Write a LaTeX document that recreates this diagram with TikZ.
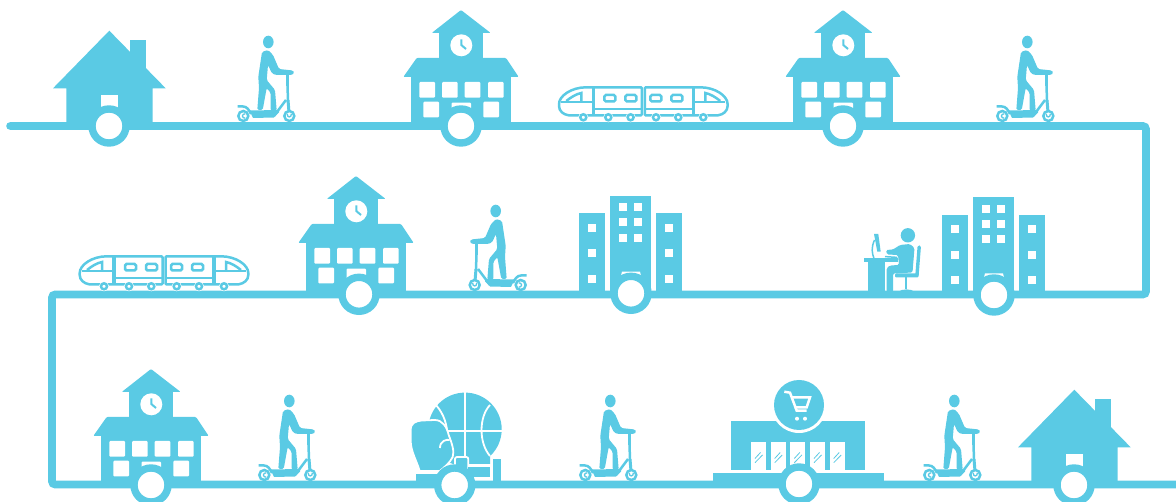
\documentclass[tikz,border=0pt]{standalone}
\usepackage{xcolor}
\definecolor{routeblue}{RGB}{90,202,228}

\begin{document}
\begin{tikzpicture}[
        x=1pt,
        y=-1pt,
        route/.style={
            draw=routeblue,
            line width=7.6pt,
            line cap=round,
            rounded corners=3pt
        },
        stopring/.style={
            circle,
            draw=routeblue,
            fill=white,
            line width=7.4pt,
            minimum size=34pt,
            inner sep=0pt,
            outer sep=0pt
        },
        iconfill/.style={
            fill=routeblue
        },
        iconline/.style={
            draw=routeblue,
            line width=2.5pt
        },
        iconwhite/.style={
            fill=white
        },
        seamline/.style={
            draw=white,
            line width=1.8pt
        },
        housepic/.pic={
            \fill[iconfill] (0.3,-95.3) -- (56.7,-37.7) -- (43.7,-37.7) -- (43.7,-1)
                -- (-42.7,-1) -- (-42.7,-37.7) -- (-56,-37.7) -- cycle;
            \fill[iconfill] (21,-85.7) rectangle (37,-45);
            \fill[iconwhite] (-7.7,-31) rectangle (8.7,-12);
        },
        schoolpic/.pic={
            \fill[iconfill, rounded corners=1pt] (0,-116) -- (29.7,-93) -- (-29.3,-93) -- cycle;
            \fill[iconfill] (-21.7,-94) rectangle (22,-67);
            \fill[iconfill, rounded corners=1pt] (-44.3,-68) -- (45,-68) -- (57.7,-49) -- (-57.7,-49) -- cycle;
            \fill[iconfill] (-50,-50) rectangle (50,0);
            \fill[iconwhite] (0.3,-80.7) circle (11);
            \draw[iconline, line width=2pt] (0.3,-86.5) -- (0.3,-81) -- (5,-77);
            \foreach \winx in {-41.7,-19,3.7,27}
                \fill[iconwhite, rounded corners=1pt] (\winx,-44) rectangle ++(15.7,15.7);
            \foreach \winx in {-37.7,22.3}
                \fill[iconwhite, rounded corners=1pt] (\winx,-24.3) rectangle ++(15.7,15.7);
            \fill[iconwhite, rounded corners=1pt] (-9.5,-23.4) rectangle ++(19.5,12);
        },
        scooterpic/.pic={
            \fill[iconfill] (2.3,-84) ellipse [x radius=5.3pt, y radius=6.3pt];
            \fill[iconfill, rounded corners=1.5pt] (-4,-74) -- (2,-76) -- (7,-71) -- (13,-57)
                -- (27,-55.5) -- (28.5,-53) -- (26,-51) -- (10,-51) -- (6,-52.5) -- (2,-61)
                -- (0.7,-46) -- (9,-36) -- (10.7,-15.3) -- (4.5,-15.3) -- (4.7,-33) -- (0.7,-38)
                -- (-3.3,-16) -- (-8.7,-16) -- (-7,-38) -- (-7.7,-49.3) -- cycle;
            \draw[iconline, line width=3.4pt] (21.5,-52) -- (21.5,-40);
            \draw[iconline] (21.5,-42) -- (22,-24);
            \draw[iconline, line width=3pt] (22,-26) -- (23.3,-10);
            \fill[iconfill] (-16.5,-15.5) -- (13,-16) -- (13,-13.5) -- (8,-8.5) -- (-13,-8) -- cycle;
            \draw[iconline] (8,-10) -- (20,-26);
            \draw[iconline] (-28.5,-19.5) -- (-23,-19.5) .. controls (-19,-19.5) and (-17,-16) .. (-15,-12);
            \draw[iconline, fill=white] (-22.7,-10) circle (5);
            \draw[iconline, line width=1.3pt] (-20.7,-12.2) .. controls (-24.5,-12.5) and (-24.5,-7.5) .. (-20.7,-7.8);
            \draw[iconline, fill=white] (23.3,-10) circle (5);
            \draw[iconline, line width=1.3pt] (21.2,-12.2) .. controls (21,-8) and (25.6,-8) .. (25.4,-12.2);
        },
        traincar/.pic={
            \draw[iconline, rounded corners=1pt] (-1.5,-38.7) -- (-56,-38.7)
                .. controls (-72,-38.7) and (-84.3,-30) .. (-84.3,-21)
                .. controls (-84.3,-15) and (-80,-11.5) .. (-74,-10.6)
                -- (-1.5,-10.6) -- cycle;
            \draw[iconline] (-77,-25) .. controls (-72,-29) and (-67,-32) .. (-62,-33) -- (-62,-24);
            \draw[iconline] (-82,-24) -- (-50,-24);
            \draw[iconline, line width=3.4pt] (-50,-38.7) -- (-50,-11);
            \draw[iconline] (-50,-17.2) -- (-1.5,-17.2);
            \foreach \winx in {-39,-18}
                \draw[iconline, rounded corners=1.5pt] (\winx,-31) rectangle ++(11,6.5);
            \foreach \whlx in {-60,-35,-12.7} {
                \fill[iconwhite] (\whlx,-8.7) circle (5);
                \draw[iconline, fill=white] (\whlx,-8.7) circle (3);
            }
        },
        trainpic/.pic={
            \pic {traincar};
            \pic[xscale=-1] {traincar};
        },
        officepic/.pic={
            \fill[iconfill] (-51.7,-81.7) rectangle (-26,-1);
            \fill[iconfill] (-21,-99.3) rectangle (20.3,-1);
            \fill[iconfill] (25.3,-81.7) rectangle (51,-1);
            \foreach \winx in {-38.7,38.3}
                \foreach \winy in {-67.3,-42,-16.3}
                    \fill[iconwhite] (\winx-4,\winy-4) rectangle ++(8,8);
            \foreach \winx in {-8,7.3}
                \foreach \winy in {-88,-72.7,-57.3}
                    \fill[iconwhite] (\winx-4,\winy-4) rectangle ++(8,8);
            \fill[iconwhite] (-10,-19.5) -- (-9,-23.3) -- (9,-23.3) -- (10,-19.5)
                .. controls (3,-21.5) and (-3,-21.5) .. cycle;
        },
        workerpic/.pic={
            \fill[iconfill] (47.9,15.3) circle (7.2);
            \fill[iconfill, rounded corners=1.5pt] (26,30) -- (33,29.5) -- (40,25) -- (50,24)
                -- (54.5,28) -- (52.5,52.5) -- (33,53.5) -- (33,72) -- (26.7,72) -- (26.7,48)
                -- (30,45.5) -- (39,45) -- (38,35) -- (27,34.5) -- cycle;
            \fill[iconfill] (4,38.3) rectangle (38,42);
            \fill[iconfill] (8.3,41) rectangle (25,72);
            \fill[iconfill] (14,14) -- (18.3,14) -- (20.7,31.7) -- (17.3,31.7) -- cycle;
            \draw[iconline, line width=1.5pt] (14.5,20) .. controls (11,28) and (12,33) .. (14,38.5);
            \draw[iconline, line width=1.5pt] (25,36.6) -- (37.3,37.4);
            \fill[iconfill, rounded corners=1pt] (35,53.5) rectangle (58.5,57.3);
            \draw[iconline, line width=3.4pt, line cap=round] (59.2,27) -- (57,55);
            \fill[iconfill] (45,57) rectangle (47,69);
            \fill[iconfill] (38,72) .. controls (42,68.5) and (51,68.5) .. (55,72) -- cycle;
        },
        arenapic/.pic={
            \fill[iconfill] (10.3,-55.7) circle (36.7);
            \fill[iconfill] (14,-21) -- (35.3,-29) -- (35.3,-21) -- cycle;
            \draw[seamline] (10.3,-93) -- (10.3,-26);
            \draw[seamline] (-8,-54.3) -- (47,-54.3);
            \draw[seamline] (35.3,-80) .. controls (24,-68) and (24,-42) .. (35.3,-29);
            \draw[seamline] (-18.7,-80) .. controls (-10,-70) and (-8,-60) .. (-7,-50);
            \draw[seamline] (13.6,-20) -- (35.3,-20);
            \filldraw[iconfill, seamline] (-35,-14) .. controls (-38,-24) and (-44,-34) .. (-44,-44)
                -- (-44,-55) .. controls (-44,-62) and (-39,-64) .. (-33,-64.5) -- (-20,-65)
                .. controls (-12,-65) and (-8,-58) .. (-6,-50)
                .. controls (-3,-42) and (0,-34) .. (-2,-28)
                .. controls (-5,-22) and (-10,-18) .. (-15,-14) -- cycle;
            \draw[seamline] (-14.7,-37) .. controls (-15,-44) and (-8,-46) .. (-5,-45);
            \filldraw[iconfill, seamline, rounded corners=2pt] (0.3,-12) -- (0.3,-28) -- (13.6,-28) -- (13.6,-12) -- cycle;
            \fill[iconfill] (13.6,-18.3) rectangle (35.3,-8);
            \fill[iconfill] (38,-26) rectangle (46.3,-3);
            \fill[iconfill] (-38.7,-11) rectangle (-10,-3);
        },
        shoppic/.pic={
            \fill[iconfill] (-68,-63.3) rectangle (65.7,-13.7);
            \fill[iconfill] (-86,-10.7) rectangle (85,0);
            \fill[iconwhite] (0,-79) circle (28);
            \fill[iconfill] (0,-79) circle (25);
            \foreach \dorx in {-48,-28.3,-8.7,11,30.7} {
                \fill[iconwhite] (\dorx,-42) rectangle ++(15,28.3);
                \draw[iconline, line width=0.8pt] (\dorx+4,-21.3) -- ++(7.5,-7.7);
                \draw[iconline, line width=0.8pt] (\dorx+4,-25.5) -- ++(5.5,-6);
            }
            % Cart
            \begin{scope}[shift={(0,-79)}]
                \draw[white, line width=2.5pt] (-14.7,-13.3) -- (-9,-12.3) -- (-2.3,5.7) -- (7.7,5.7);
                \draw[white, line width=2.5pt] (-8,-7.7) -- (11,-7.7) -- (7.7,2.3) -- (-4.3,2.3);
                \fill[iconwhite] (-2,13.7) circle (2);
                \fill[iconwhite] (6,13.7) circle (2);
            \end{scope}
        }
    ]
    \path[use as bounding box, clip] (0,0) rectangle (1176,502);

    % Route corners
    \coordinate (routeStart) at (10,126);
    \coordinate (cornerA) at (1146,126);
    \coordinate (cornerB) at (1146,294.5);
    \coordinate (cornerC) at (52,294.5);
    \coordinate (cornerD) at (52,484.5);
    \coordinate (routeEnd) at (1190,484.5);

    % Route
    \draw[route] (routeStart) -- (cornerA) -- (cornerB) -- (cornerC) -- (cornerD) -- (routeEnd);

    % Row 1
    \pic (homeA) at (109,126) {housepic};
    \pic (riderA) at (266,126) {scooterpic};
    \pic (schoolA) at (461,126) {schoolpic};
    \pic (trainA) at (643.3,126) {trainpic};
    \pic (schoolB) at (843,126) {schoolpic};
    \pic (riderB) at (1025,126) {scooterpic};

    % Row 2
    \pic (trainB) at (164,295) {trainpic};
    \pic (schoolC) at (356,292) {schoolpic};
    \pic[xscale=-1] (riderC) at (498,295) {scooterpic};
    \pic (officeA) at (631,295) {officepic};
    \pic (worker) at (860,220) {workerpic};
    \pic (officeB) at (994,296.7) {officepic};

    % Row 3
    \pic (schoolD) at (151,485) {schoolpic};
    \pic (riderD) at (287,485) {scooterpic};
    \pic (arena) at (454.7,485) {arenapic};
    \pic (riderE) at (608,485) {scooterpic};
    \pic (shop) at (799,484) {shoppic};
    \pic (riderF) at (952,485) {scooterpic};
    \pic (homeB) at (1074,485) {housepic};

    % Stops
    \node[stopring] (stopA) at (109,126) {};
    \node[stopring] (stopB) at (461,126) {};
    \node[stopring] (stopC) at (843,126) {};
    \node[stopring] (stopD) at (359,294.3) {};
    \node[stopring] (stopE) at (631,293.3) {};
    \node[stopring] (stopF) at (994,295) {};
    \node[stopring] (stopG) at (151,485) {};
    \node[stopring] (stopH) at (454.7,485) {};
    \node[stopring] (stopI) at (799,484) {};
    \node[stopring] (stopJ) at (1074,485) {};

    \end{tikzpicture}
\end{document}
